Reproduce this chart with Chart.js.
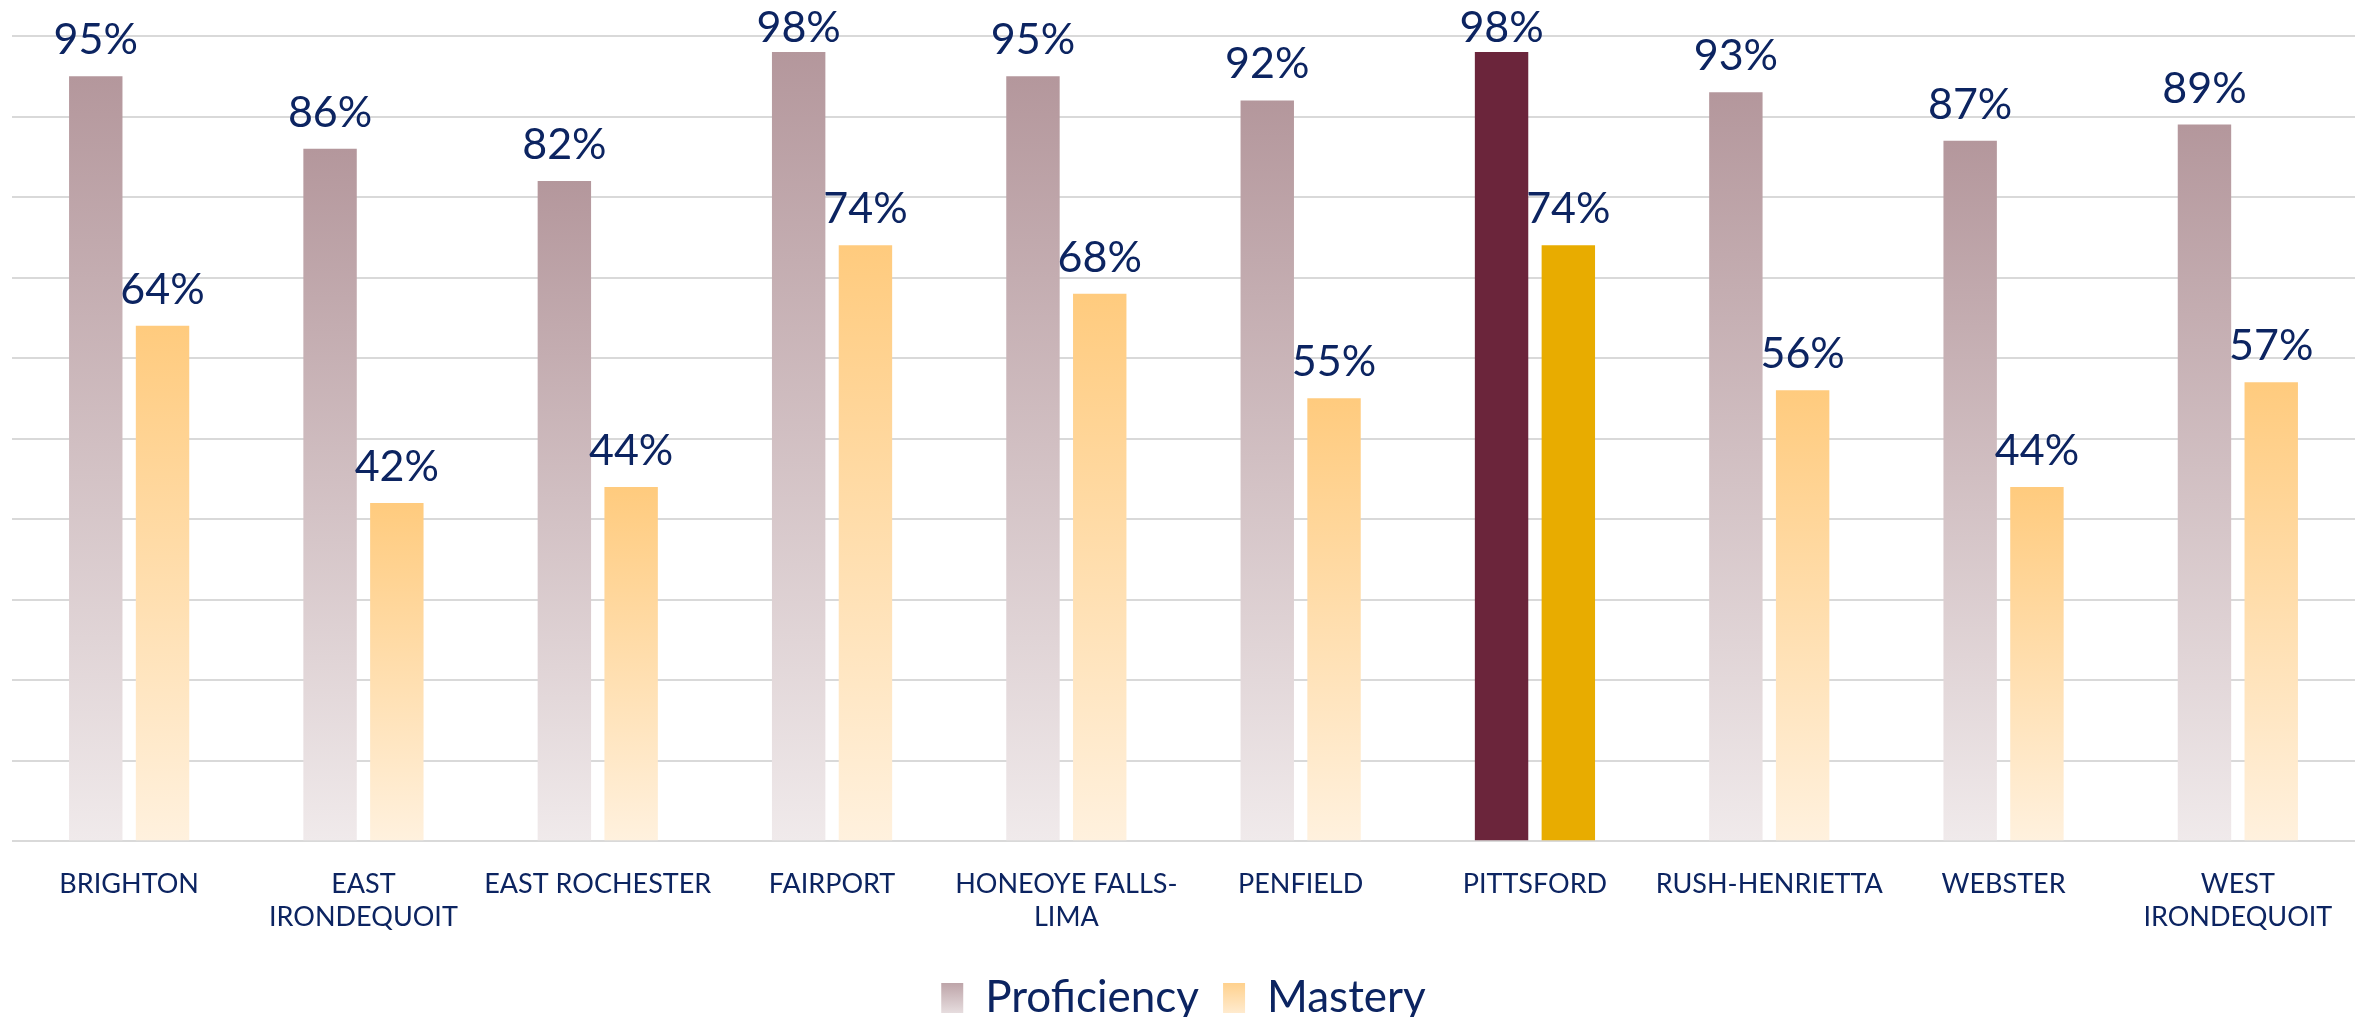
<!DOCTYPE html>
<html>
<head>
<meta charset="utf-8">
<script src="https://cdn.jsdelivr.net/npm/chart.js@4"></script>
<style>
html,body{margin:0;padding:0;background:#fff;}
#wrap{width:2367px;height:1017px;}
</style>
</head>
<body>
<div id="wrap"><canvas id="c" width="2367" height="1017"></canvas></div>
<script>
const categories = [
  'BRIGHTON', ['EAST', 'IRONDEQUOIT'], 'EAST ROCHESTER', 'FAIRPORT',
  ['HONEOYE FALLS-', 'LIMA'], 'PENFIELD', 'PITTSFORD', 'RUSH-HENRIETTA',
  'WEBSTER', ['WEST', 'IRONDEQUOIT']
];
const proficiency = [95, 86, 82, 98, 95, 92, 98, 93, 87, 89];
const mastery = [64, 42, 44, 74, 68, 55, 74, 56, 44, 57];
const highlightIndex = 6;
const yTicks = [0, 10, 20, 30, 40, 50, 60, 70, 80, 90, 100];

const NAVY = '#0C2461';
const FONT = 'Lato, "Open Sans", sans-serif';

function barFill(top, bottom, solid) {
  return function (ctx) {
    const chart = ctx.chart;
    if (ctx.dataIndex === highlightIndex) return solid;
    const y = chart.scales && chart.scales.y;
    if (!y || !chart.chartArea) return top;
    const v = ctx.dataset.data[ctx.dataIndex];
    const y0 = y.getPixelForValue(v);
    const y1 = y.getPixelForValue(0);
    const g = chart.ctx.createLinearGradient(0, y0, 0, y1);
    g.addColorStop(0, top);
    g.addColorStop(1, bottom);
    return g;
  };
}

const profTop = '#B4979C', profBot = '#F0EAEB';
const mastTop = '#FFCB7E', mastBot = '#FFF1DE';

const labelPlugin = {
  id: 'valueLabels',
  afterDatasetsDraw(chart) {
    const ctx = chart.ctx;
    ctx.save();
    ctx.font = '43px ' + FONT;
    ctx.fillStyle = NAVY;
    ctx.textAlign = 'center';
    ctx.textBaseline = 'alphabetic';
    chart.data.datasets.forEach((ds, di) => {
      const meta = chart.getDatasetMeta(di);
      meta.data.forEach((el, i) => {
        const yb = Math.max(el.y - 22, 42);
        ctx.fillText(ds.data[i] + '%', el.x, yb);
      });
    });
    ctx.restore();
  }
};

const legendGradPlugin = {
  id: 'legendGrad',
  beforeDraw(chart) {
    const lg = chart.legend;
    if (!lg || !lg.legendItems || !lg.legendHitBoxes) return;
    const cols = [[profTop, profBot], [mastTop, mastBot]];
    lg.legendItems.forEach((item, i) => {
      const hb = lg.legendHitBoxes[i];
      if (!hb) return;
      const g = chart.ctx.createLinearGradient(0, hb.top, 0, hb.top + hb.height);
      g.addColorStop(0, cols[i][0]);
      g.addColorStop(1, cols[i][1]);
      item.fillStyle = g;
      item.strokeStyle = 'rgba(0,0,0,0)';
      item.lineWidth = 0;
    });
  }
};

new Chart(document.getElementById('c'), {
  type: 'bar',
  data: {
    labels: categories,
    datasets: [
      { label: 'Proficiency', data: proficiency, backgroundColor: barFill(profTop, profBot, '#6B253B'), borderWidth: 0 },
      { label: 'Mastery', data: mastery, backgroundColor: barFill(mastTop, mastBot, '#E8AC00'), borderWidth: 0 }
    ]
  },
  options: {
    responsive: false,
    animation: false,
    devicePixelRatio: 1,
    categoryPercentage: 0.57,
    barPercentage: 0.8,
    layout: { padding: { left: 12, right: 12, top: 36, bottom: -13 } },
    plugins: {
      legend: {
        position: 'bottom',
        labels: {
          font: { family: FONT, size: 44 },
          color: NAVY,
          boxWidth: 22,
          boxHeight: 30,
          padding: 24,
          generateLabels(chart) {
            return chart.data.datasets.map((ds, i) => ({
              text: ds.label, fillStyle: i === 0 ? profTop : mastTop,
              strokeStyle: 'rgba(0,0,0,0)', lineWidth: 0, datasetIndex: i, hidden: false, fontColor: NAVY
            }));
          }
        }
      },
      tooltip: { enabled: false }
    },
    scales: {
      x: {
        grid: { display: false },
        border: { display: false },
        ticks: { color: NAVY, font: { family: FONT, size: 27 }, padding: 19, maxRotation: 0, autoSkip: false }
      },
      y: {
        min: 0, max: 100,
        afterBuildTicks(axis) { axis.ticks = yTicks.map(v => ({ value: v })); },
        grid: { color: '#D9D9D9', lineWidth: 2, drawTicks: false },
        border: { display: false },
        ticks: { display: false }
      }
    }
  },
  plugins: [labelPlugin, legendGradPlugin]
});
</script>
</body>
</html>
